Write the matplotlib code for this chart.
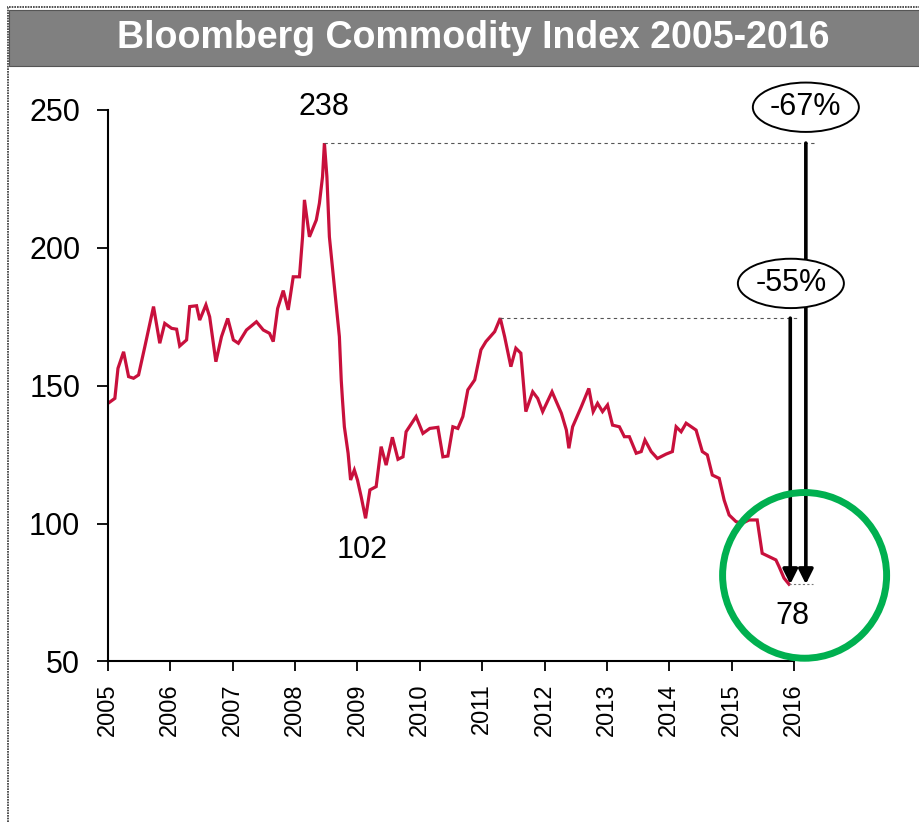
import numpy as np
import matplotlib
matplotlib.use('Agg')
import matplotlib.pyplot as plt
from matplotlib.patches import Ellipse, Rectangle

plt.rcParams['font.family'] = ['Liberation Sans', 'DejaVu Sans']

# ── Data ─────────────────────────────────────────────────────────────────────
years = [2005.00, 2005.11, 2005.16, 2005.25, 2005.33, 2005.41, 2005.49, 2005.59,
         2005.73, 2005.83, 2005.91, 2006.02, 2006.10, 2006.15, 2006.26, 2006.31,
         2006.42, 2006.47, 2006.57, 2006.63, 2006.73, 2006.82, 2006.92, 2007.01,
         2007.09, 2007.22, 2007.38, 2007.49, 2007.59, 2007.65, 2007.72, 2007.81,
         2007.89, 2007.97, 2008.07, 2008.12, 2008.15, 2008.23, 2008.34, 2008.39,
         2008.44, 2008.47, 2008.51, 2008.55, 2008.63, 2008.71, 2008.74, 2008.76,
         2008.79, 2008.85, 2008.89, 2008.95, 2009.00, 2009.06, 2009.13, 2009.20,
         2009.30, 2009.38, 2009.46,
         2009.56, 2009.65, 2009.73, 2009.78, 2009.94, 2010.05, 2010.16, 2010.29,
         2010.37, 2010.45, 2010.53, 2010.61, 2010.69, 2010.77, 2010.88, 2010.98,
         2011.06, 2011.20, 2011.29, 2011.36, 2011.46, 2011.54, 2011.62, 2011.70,
         2011.81, 2011.89, 2011.97, 2012.12, 2012.27, 2012.35, 2012.39, 2012.45,
         2012.59, 2012.71, 2012.78, 2012.85, 2012.93, 2013.01, 2013.09, 2013.20,
         2013.28, 2013.36, 2013.47, 2013.55, 2013.61, 2013.71, 2013.81, 2013.95,
         2014.05, 2014.11, 2014.19, 2014.27, 2014.43, 2014.53, 2014.61, 2014.69,
         2014.80, 2014.88, 2014.96, 2015.07, 2015.17, 2015.28, 2015.41, 2015.49,
         2015.71, 2015.76, 2015.84, 2015.92]
index = [143.6, 145.4, 156.3, 162.3, 153.3, 152.7, 153.9, 164.1,
         178.7, 165.4, 172.6, 170.8, 170.5, 164.4, 166.6, 178.7,
         179.0, 173.8, 179.3, 175.0, 158.7, 167.8, 174.4, 166.6,
         165.4, 170.2, 173.2, 170.2, 169.0, 166.0, 178.0, 184.5,
         177.5, 189.5, 189.5, 204.0, 217.4, 204.0, 210.1, 216.2,
         225.8, 238.0, 225.8, 204.0, 185.9, 167.8, 152.0, 144.8,
         135.1, 125.5, 115.8, 119.4, 115.8, 109.7, 101.9, 112.2,
         113.4, 127.9, 121.2,
         131.3, 123.3, 124.2, 133.3, 138.8, 132.7, 134.5, 134.9,
         124.2, 124.5, 135.1, 134.5, 138.8, 148.5, 152.1, 163.0,
         166.0, 169.6, 174.5, 167.8, 156.9, 163.6, 161.8, 140.6,
         147.8, 145.4, 140.6, 147.8, 140.0, 133.9, 127.3, 135.1,
         142.4, 149.0, 140.6, 143.6, 140.6, 143.0, 135.7, 135.1,
         131.5, 131.5, 125.5, 126.1, 130.3, 126.1, 123.6, 125.2,
         126.1, 135.1, 133.3, 136.4, 133.9, 126.1, 124.9, 117.6,
         116.4, 108.5, 103.1, 100.7, 100.1, 101.3, 101.3, 89.2,
         86.8, 84.4, 80.2, 78.0]

year_ticks = list(range(2005, 2017))
value_ticks = [50, 100, 150, 200, 250]

peak_2008 = (2008.47, 238)
trough_2009 = (2009.13, 102)
peak_2011 = (2011.29, 174.5)
latest = 78
labels = ['238', '102', '78']
drops = ['-55%', '-67%']

# ── Figure ───────────────────────────────────────────────────────────────────
fig = plt.figure(figsize=(9.19, 8.22), dpi=100)

# outer frame and grey title bar
fig.add_artist(Rectangle((8 / 919, -0.01), 1.0, 1.0 - 7 / 822 + 0.01, transform=fig.transFigure,
                         facecolor='none', edgecolor='#333333', lw=1.2, ls=(0, (1, 0.6))))
fig.add_artist(Rectangle((9 / 919, 1 - 66 / 822), 1.0, 56 / 822, transform=fig.transFigure,
                         facecolor='#808080', edgecolor='#555555', lw=0.8))
fig.text(0.515, 1 - 38 / 822, 'Bloomberg Commodity Index 2005-2016', color='white',
         fontsize=27, fontweight='bold', ha='center', va='center')

ax = fig.add_axes([108 / 919, 1 - 661.4 / 822, (794 - 108) / 919, (661.4 - 110) / 822])
ax.plot(years, index, color='#C8103C', lw=2.3, solid_joinstyle='miter')

ax.set_xlim(2005, 2016)
ax.set_ylim(50, 250)
ax.set_xticks(year_ticks)
ax.set_xticklabels([str(y) for y in year_ticks], rotation=90, fontsize=17)
ax.set_yticks(value_ticks)
ax.set_yticklabels([str(v) for v in value_ticks], fontsize=22)
for s in ['top', 'right']:
    ax.spines[s].set_visible(False)
ax.spines['left'].set_linewidth(1.5)
ax.spines['bottom'].set_linewidth(1.5)
ax.tick_params(axis='y', length=8, width=1.3, pad=12)
ax.tick_params(axis='x', length=7, width=1.3, pad=9)

# dashed reference lines from the peaks
ax.plot([peak_2008[0], 2016.33], [peak_2008[1]] * 2, color='#555555', lw=0.8,
        ls=(0, (3, 3)), clip_on=False)
ax.plot([peak_2011[0], 2016.08], [peak_2011[1]] * 2, color='#555555', lw=0.8,
        ls=(0, (3, 3)), clip_on=False)
ax.plot([2015.92, 2016.3], [latest] * 2, color='#777777', lw=0.8,
        ls=(0, (2, 2)), clip_on=False)

# drop arrows
for x0, top in [(2015.94, peak_2011[1]), (2016.19, peak_2008[1])]:
    ax.annotate('', xy=(x0, latest), xytext=(x0, top), annotation_clip=False,
                arrowprops=dict(arrowstyle='-|>', color='black', lw=2.6,
                                mutation_scale=22, shrinkA=0, shrinkB=0))

# percentage ellipses
for (cx, cy), txt in zip([(2015.95, 187.1), (2016.19, 251.0)], drops):
    ax.add_patch(Ellipse((cx, cy), 1.70, 17.9, facecolor='white', edgecolor='black',
                         lw=1.4, clip_on=False, zorder=5))
    ax.text(cx, cy, txt, fontsize=22, ha='center', va='center', zorder=6)

# green highlight circle
ax.add_patch(Ellipse((2016.17, 81.2), 2.63, 60.1, facecolor='none', edgecolor='#00B050',
                     lw=5, clip_on=False, zorder=4))

# value labels
ax.text(peak_2008[0], 251, labels[0], fontsize=22, ha='center', va='center')
ax.text(2009.07, 90.4, labels[1], fontsize=22, ha='center', va='center')
ax.text(2015.97, 66.3, labels[2], fontsize=22, ha='center', va='center')

fig.savefig('out.png', dpi=100)
